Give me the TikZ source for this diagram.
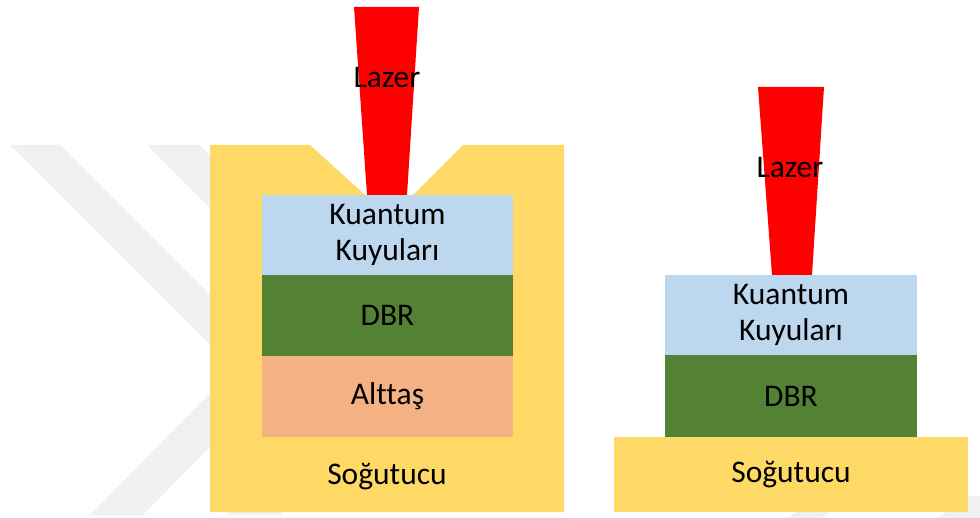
\documentclass[tikz,border=0pt]{standalone}
\usepackage{fontspec}
\setmainfont[Ligatures=NoCommon]{Carlito}
\definecolor{sink}{HTML}{FFD966}
\definecolor{qwell}{HTML}{BDD7EE}
\definecolor{dbrgreen}{HTML}{548235}
\definecolor{substrate}{HTML}{F4B183}
\definecolor{beam}{HTML}{FF0000}
\definecolor{wmgray}{HTML}{F0F0F0}
\begin{document}
\begin{tikzpicture}[x=1pt,y=-1pt,
  lbl/.style={font=\fontsize{31.5}{36}\selectfont, align=center, text=black, inner sep=0pt},
  layer/.style={lbl, draw=none, outer sep=0pt, rectangle},
  laserbeam/.style={fill=beam, draw=none}]
  % canvas
  \useasboundingbox (0,0) rectangle (980,518);
  \fill[white] (0,0) rectangle (980,518);

  % faint chevron bands in the background
  \fill[wmgray] (10,145) -- (60,145) -- (285,370) -- (143,515) -- (90,515) -- (234,369) -- cycle;
  \fill[wmgray] (147,145) -- (200,145) -- (422,370) -- (280,515) -- (227,515) -- (371,369) -- cycle;
  \fill[wmgray] (938,518) -- (970,496) -- (980,496) -- (980,518) -- cycle;
  \fill[wmgray] (787,518) -- (797,511) -- (830,511) -- (822,518) -- cycle;

  % ---- left device: notched heat sink ----
  \fill[sink] (210,145) -- (310,145) -- (365,195) -- (413,195) -- (463,145)
     -- (564,145) -- (564,512) -- (210,512) -- cycle;
  \coordinate (sinkL) at (387,477);
  \node[lbl] (sinkLtext) at (sinkL) {Soğutucu};

  \node[layer, fill=qwell, minimum width=251pt, minimum height=80pt] (qwL) at (387.5,235) {Kuantum\\Kuyuları};
  \node[layer, fill=dbrgreen, minimum width=251pt, minimum height=81pt] (dbrL) at (387.5,315.5) {DBR};
  \node[layer, fill=substrate, minimum width=251pt, minimum height=81pt] (subL) at (387.5,396.5) {Alttaş};

  % left laser beam
  \fill[laserbeam] (354,7) -- (419,7) -- (407,195) -- (367,195) -- cycle;
  \node[lbl] (laserL) at (387,78) {Lazer};

  % ---- right device: flat heat sink ----
  \node[layer, fill=sink, minimum width=354pt, minimum height=75pt] (sinkR) at (791,474.5) {Soğutucu};
  \node[layer, fill=qwell, minimum width=252pt, minimum height=80pt] (qwR) at (791,315) {Kuantum\\Kuyuları};
  \node[layer, fill=dbrgreen, minimum width=252pt, minimum height=82pt] (dbrR) at (791,396) {DBR};

  % right laser beam
  \fill[laserbeam] (758,87) -- (824,87) -- (812,275) -- (772,275) -- cycle;
  \node[lbl] (laserR) at (790,168) {Lazer};
\end{tikzpicture}
\end{document}
